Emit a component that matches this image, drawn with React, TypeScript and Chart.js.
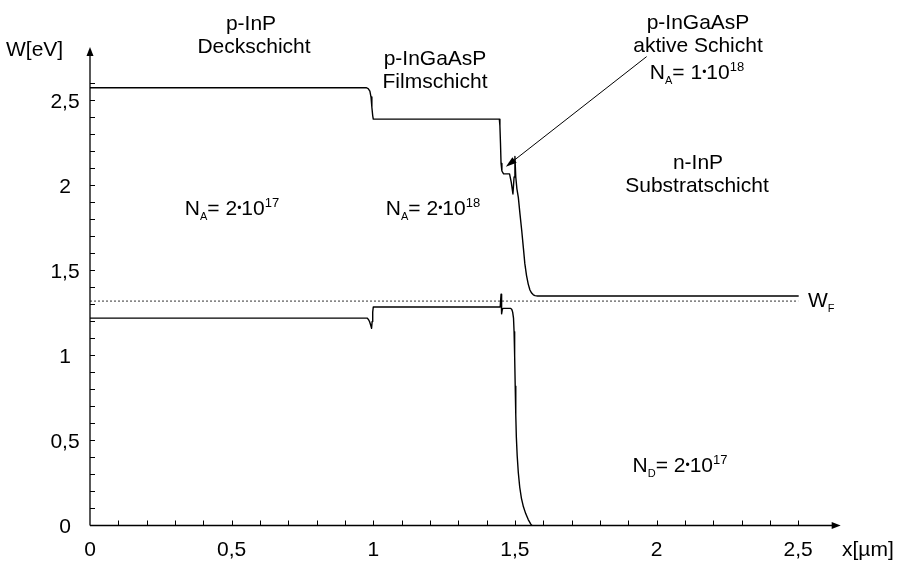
import React, { useEffect, useRef } from "react";
import { Chart, registerables } from "chart.js";

Chart.register(...registerables);

// ---- data (x in µm, W in eV) ----
const upperX = [0, 0.975, 0.982, 0.988, 0.992, 0.995, 0.998, 1.0, 1.445, 1.447, 1.449, 1.451, 1.454, 1.46, 1.481, 1.487, 1.493, 1.497, 1.5, 1.503, 1.507, 1.512, 1.518, 1.524, 1.53, 1.535, 1.541, 1.547, 1.553, 1.559, 1.565, 1.571, 1.58, 2.5];
const upperY = [2.575, 2.575, 2.57, 2.555, 2.52, 2.46, 2.41, 2.39, 2.39, 2.35, 2.25, 2.13, 2.085, 2.068, 2.068, 2.02, 1.95, 2.05, 2.17, 2.05, 1.98, 1.93, 1.83, 1.735, 1.63, 1.54, 1.47, 1.42, 1.385, 1.367, 1.357, 1.352, 1.35, 1.35];
const lowerX = [0, 0.978, 0.983, 0.987, 0.991, 0.994, 0.996, 0.998, 1.0, 1.448, 1.451, 1.453, 1.456, 1.46, 1.485, 1.489, 1.492, 1.495, 1.497, 1.499, 1.501, 1.503, 1.505, 1.508, 1.512, 1.517, 1.523, 1.53, 1.538, 1.547, 1.556, 1.56];
const lowerY = [1.22, 1.22, 1.212, 1.198, 1.178, 1.16, 1.2, 1.255, 1.285, 1.285, 1.36, 1.245, 1.275, 1.277, 1.277, 1.27, 1.255, 1.22, 1.14, 1.0, 0.82, 0.65, 0.52, 0.41, 0.31, 0.225, 0.16, 0.11, 0.07, 0.035, 0.008, 0.0];
const fermiX = [0, 2.5];
const fermiY = [1.32, 1.32];

const xTickValues = [0, 0.5, 1, 1.5, 2, 2.5];
const xTickLabels = ["0", "0,5", "1", "1,5", "2", "2,5"];
const yTickValues = [0, 0.5, 1, 1.5, 2, 2.5];
const yTickLabels = ["0", "0,5", "1", "1,5", "2", "2,5"];
const xMinorMax = 2.5;
const yMinorMax = 2.6;

const FONT = '"Liberation Sans", Arial, Helvetica, sans-serif';

type Seg = { t: string; size?: number; dy?: number };

function drawRich(ctx: CanvasRenderingContext2D, segs: Seg[], cx: number, baseline: number, base = 21, align: "center" | "left" = "center") {
  const widths = segs.map((s) => {
    ctx.font = `${s.size ?? base}px ${FONT}`;
    return ctx.measureText(s.t).width;
  });
  const total = widths.reduce((a, b) => a + b, 0);
  let x = align === "center" ? cx - total / 2 : cx;
  ctx.textAlign = "left";
  ctx.textBaseline = "alphabetic";
  segs.forEach((s, i) => {
    ctx.font = `${s.size ?? base}px ${FONT}`;
    ctx.fillText(s.t, x, baseline + (s.dy ?? 0));
    x += widths[i];
  });
}

const conc = (sub: string, mant: string, exp: string): Seg[] => [
  { t: "N" },
  { t: sub, size: 11, dy: 5 },
  { t: "= " + mant },
  { t: "•", size: 12, dy: -3 },
  { t: "10" },
  { t: exp, size: 13, dy: -8 },
];

const decoPlugin = {
  id: "deco",
  afterDraw(chart: any) {
    const ctx: CanvasRenderingContext2D = chart.ctx;
    const xs = chart.scales.x;
    const ys = chart.scales.y;
    const x0 = xs.getPixelForValue(0);
    const y0 = ys.getPixelForValue(0);
    const xEnd = chart.chartArea.right;
    const yEnd = chart.chartArea.top;
    ctx.save();
    ctx.strokeStyle = "#000";
    ctx.fillStyle = "#000";
    ctx.lineWidth = 1.3;
    // axes
    ctx.beginPath();
    ctx.moveTo(x0, y0);
    ctx.lineTo(xEnd - 6, y0);
    ctx.moveTo(x0, y0);
    ctx.lineTo(x0, yEnd + 6);
    ctx.stroke();
    // arrowheads
    ctx.beginPath();
    ctx.moveTo(xEnd, y0);
    ctx.lineTo(xEnd - 9, y0 - 3.5);
    ctx.lineTo(xEnd - 9, y0 + 3.5);
    ctx.closePath();
    ctx.fill();
    ctx.beginPath();
    ctx.moveTo(x0, yEnd);
    ctx.lineTo(x0 - 3.5, yEnd + 9);
    ctx.lineTo(x0 + 3.5, yEnd + 9);
    ctx.closePath();
    ctx.fill();
    // minor/major ticks (inside)
    ctx.lineWidth = 1;
    ctx.beginPath();
    for (let i = 1; i <= Math.round(xMinorMax * 10); i++) {
      const px = Math.round(xs.getPixelForValue(i / 10)) + 0.5;
      ctx.moveTo(px, y0);
      ctx.lineTo(px, y0 - 5);
    }
    for (let i = 1; i <= Math.round(yMinorMax * 10); i++) {
      const py = Math.round(ys.getPixelForValue(i / 10)) + 0.5;
      ctx.moveTo(x0, py);
      ctx.lineTo(x0 + 5, py);
    }
    ctx.stroke();
    // tick labels
    ctx.font = `21px ${FONT}`;
    ctx.textAlign = "center";
    ctx.textBaseline = "alphabetic";
    xTickValues.forEach((v, i) => {
      ctx.fillText(xTickLabels[i], xs.getPixelForValue(v), y0 + 30);
    });
    yTickValues.forEach((v, i) => {
      ctx.fillText(yTickLabels[i], x0 - 25, ys.getPixelForValue(v) + 7.5);
    });
    // axis titles
    ctx.textAlign = "left";
    ctx.fillText("x[µm]", 842, y0 + 30);
    ctx.fillText("W[eV]", 6, 56);

    // region labels
    ctx.textAlign = "center";
    ctx.font = `21px ${FONT}`;
    ctx.fillText("p-InP", 251, 30);
    ctx.fillText("Deckschicht", 254, 53);
    ctx.fillText("p-InGaAsP", 435, 65);
    ctx.fillText("Filmschicht", 435, 88);
    ctx.fillText("p-InGaAsP", 698, 29);
    ctx.fillText("aktive Schicht", 698, 52);
    drawRich(ctx, conc("A", "1", "18"), 697, 79);
    ctx.font = `21px ${FONT}`;
    ctx.textAlign = "center";
    ctx.fillText("n-InP", 698, 169);
    ctx.fillText("Substratschicht", 697, 192);
    drawRich(ctx, conc("A", "2", "17"), 232, 215);
    drawRich(ctx, conc("A", "2", "18"), 433, 215);
    drawRich(ctx, conc("D", "2", "17"), 680, 472);
    drawRich(ctx, [{ t: "W" }, { t: "F", size: 11, dy: 5 }], 808, 307, 21, "left");

    // pointer arrow to active layer
    const tipX = xs.getPixelForValue(1.468);
    const tipY = ys.getPixelForValue(2.11);
    const sX = xs.getPixelForValue(1.965);
    const sY = ys.getPixelForValue(2.758);
    const ang = Math.atan2(tipY - sY, tipX - sX);
    ctx.lineWidth = 1;
    ctx.beginPath();
    ctx.moveTo(sX, sY);
    ctx.lineTo(tipX - 6 * Math.cos(ang), tipY - 6 * Math.sin(ang));
    ctx.stroke();
    const L = 11, W = 3.5;
    ctx.beginPath();
    ctx.moveTo(tipX, tipY);
    ctx.lineTo(tipX - L * Math.cos(ang) + W * Math.sin(ang), tipY - L * Math.sin(ang) - W * Math.cos(ang));
    ctx.lineTo(tipX - L * Math.cos(ang) - W * Math.sin(ang), tipY - L * Math.sin(ang) + W * Math.cos(ang));
    ctx.closePath();
    ctx.fill();
    ctx.restore();
  },
};

const toPts = (xs: number[], ys: number[]) => xs.map((x, i) => ({ x, y: ys[i] }));

export default function App() {
  const ref = useRef<HTMLCanvasElement>(null);
  useEffect(() => {
    if (!ref.current) return;
    const lineStyle = { borderColor: "#000", borderWidth: 1.4, pointRadius: 0, tension: 0, fill: false, borderJoinStyle: "round" as const, borderCapStyle: "round" as const };
    const chart = new Chart(ref.current, {
      type: "line",
      data: {
        datasets: [
          { data: toPts(upperX, upperY), ...lineStyle },
          { data: toPts(lowerX, lowerY), ...lineStyle },
          { data: toPts(fermiX, fermiY), borderColor: "#333", borderWidth: 1, borderDash: [2, 2], pointRadius: 0, tension: 0, fill: false },
        ],
      },
      options: {
        animation: false,
        responsive: false,
        devicePixelRatio: 1,
        layout: { padding: { left: 90, right: 57.3, top: 46.9, bottom: 35.5 } },
        plugins: { legend: { display: false }, tooltip: { enabled: false }, title: { display: false } },
        scales: {
          x: { type: "linear", min: 0, max: 2.65, display: false },
          y: { type: "linear", min: 0, max: 2.815, display: false },
        },
        events: [],
      },
      plugins: [decoPlugin],
    });
    return () => chart.destroy();
  }, []);
  return (
    <div style={{ position: "fixed", left: 0, top: 0, width: 898, height: 561, background: "#fff" }}>
      <canvas ref={ref} width={898} height={561} style={{ width: 898, height: 561 }} />
    </div>
  );
}
